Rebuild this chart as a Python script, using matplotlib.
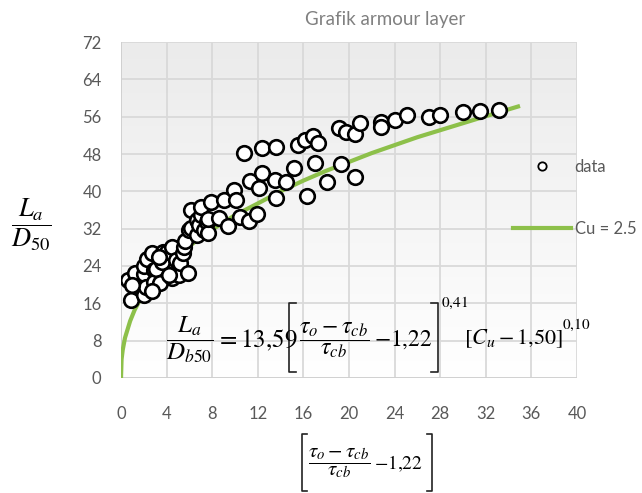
import matplotlib
matplotlib.use("Agg")
import matplotlib.pyplot as plt
import numpy as np
from matplotlib.lines import Line2D

plt.rcParams['font.family'] = ['Lato', 'DejaVu Sans']
plt.rcParams['mathtext.fontset'] = 'stix'

# data points
data_x = [0.6, 0.9, 1.2, 1.5, 2.0, 2.0, 2.0, 2.2, 2.3, 2.7, 2.9, 2.9, 3.1, 3.4,
          3.6, 3.7, 4.0, 4.5, 4.5, 4.8, 4.9, 5.1, 5.2, 5.4, 5.5, 5.6, 5.9, 6.0,
          6.1, 6.1, 6.7, 6.7, 6.8, 7.0, 7.0, 7.3, 7.5, 7.6, 7.6, 7.9, 8.6, 9.0,
          9.4, 9.9, 10.1, 10.4, 10.8, 11.2, 11.3, 11.9, 12.1, 12.4, 12.4, 13.5,
          13.6, 13.6, 14.5, 15.2, 15.5, 16.1, 16.3, 16.8, 17.0, 17.3, 18.1, 19.1,
          19.3, 19.7, 20.5, 20.5, 21.0, 22.8, 22.8, 24.0, 25.1, 27.0, 28.0, 30.0,
          31.5, 33.2, 1.0, 2.7, 3.3, 4.2]
data_y = [21.0, 16.8, 22.6, 19.5, 17.8, 22.2, 24.1, 19.6, 25.4, 26.7, 23.1, 20.6,
          23.4, 20.3, 24.9, 27.1, 27.1, 21.4, 28.1, 25.3, 22.4, 22.1, 24.6, 26.7,
          28.1, 29.4, 22.6, 31.7, 32.2, 36.0, 30.6, 33.9, 32.8, 34.9, 36.6, 31.7,
          33.5, 31.0, 34.0, 37.8, 34.2, 38.1, 32.6, 40.2, 38.1, 34.4, 48.3, 33.6,
          42.2, 35.2, 40.8, 49.3, 44.0, 42.4, 49.6, 38.6, 42.0, 44.9, 49.9, 51.1,
          39.0, 51.9, 46.0, 50.3, 42.1, 53.5, 45.9, 52.8, 52.3, 43.1, 54.6, 54.9,
          53.8, 55.3, 56.4, 56.0, 56.4, 57.1, 57.3, 57.5, 20.0, 18.6, 26.0, 22.0]

# fitted curve Cu = 2.5
curve_x = [0, 0.05, 0.15, 0.35, 0.8, 1.2, 1.7, 2.5, 3.5, 5, 6.5, 8, 10, 12, 14,
           16, 18, 20, 22, 24, 26, 28, 30, 32, 35.0]
curve_y = [0, 4.0, 6.0, 8.6, 12.2, 14.6, 16.9, 19.8, 22.7, 26.3, 29.2, 31.8,
           34.9, 37.4, 40.0, 42.3, 44.4, 46.3, 48.2, 49.9, 51.6, 53.1, 54.6,
           56.1, 58.3]

xticks = np.arange(0, 41, 4)
yticks = np.arange(0, 73, 8)

W, H = 642, 493
fig = plt.figure(figsize=(W / 100, H / 100), dpi=100)
ax = fig.add_axes([121 / W, 1 - 378 / H, 456 / W, 336 / H])


def fx(x):
    return x / W


def fy(y):
    return 1 - y / H


def ptext(x, y, s, **kw):
    fig.text(fx(x), fy(y), s, **kw)


def bracket(x, y0, y1, tick):
    # square bracket drawn as a thin line (tick > 0 -> opening to the right)
    fig.add_artist(Line2D([fx(x + tick), fx(x), fx(x), fx(x + tick)],
                          [fy(y0), fy(y0), fy(y1), fy(y1)],
                          color='#222222', linewidth=1.2))


# light gradient background of plot area
grad = np.linspace(1.0, 0.0, 256).reshape(-1, 1)
ax.imshow(grad, extent=[0, 1, 0, 1], transform=ax.transAxes, aspect='auto',
          cmap=matplotlib.colors.LinearSegmentedColormap.from_list(
              'g', ['#ffffff', '#ebebeb']), zorder=0)

ax.set_xlim(0, 40)
ax.set_ylim(0, 72)
ax.set_xticks(xticks)
ax.set_yticks(yticks)
ax.grid(True, color='#d9d9d9', linewidth=1.3, zorder=1)
ax.set_axisbelow(True)
for s in ax.spines.values():
    s.set_visible(False)
ax.axhline(0, color='#d0d0d0', linewidth=1.3, zorder=1)
ax.axvline(0, color='#d0d0d0', linewidth=1.3, zorder=1)
ax.tick_params(length=0, labelsize=12, labelcolor='#595959')
ax.tick_params(axis='y', pad=14)
ax.tick_params(axis='x', pad=20)

line_col = '#8dc04a'
ax.plot(curve_x, curve_y, color=line_col, linewidth=3, zorder=2,
        solid_capstyle='butt')
ax.scatter(data_x, data_y, s=110, facecolor='white', edgecolor='black',
           linewidth=1.9, zorder=3)

# equation inside plot, built from pieces
ptext(190, 340, r'$\dfrac{L_a}{D_{b50}}$', fontsize=18, ha='center', va='center')
ptext(216, 340, r'$=13{,}59$', fontsize=18, ha='left', va='center')
bracket(289, 303, 372, 7)
ptext(334, 340, r'$\dfrac{\tau_o - \tau_{cb}}{\tau_{cb}}$', fontsize=17,
      ha='center', va='center')
ptext(374, 340, r'$-1{,}22$', fontsize=17, ha='left', va='center')
bracket(438, 303, 372, -7)
ptext(441, 303, r'$0{,}41$', fontsize=11, ha='left', va='center')
ptext(464, 339, r'$[C_u - 1{,}50]$', fontsize=16, ha='left', va='center')
ptext(562, 325, r'$0{,}10$', fontsize=11, ha='left', va='center')

# y axis label
ptext(31, 225, r'$\dfrac{L_a}{D_{50}}$', fontsize=19, ha='center', va='center')

# x axis label, built from pieces
bracket(302, 434, 491, 5)
ptext(339, 463, r'$\dfrac{\tau_o - \tau_{cb}}{\tau_{cb}}$', fontsize=15,
      ha='center', va='center')
ptext(374, 464, r'$-1{,}22$', fontsize=14, ha='left', va='center')
bracket(432, 434, 491, -5)

ptext(385, 20, 'Grafik armour layer', fontsize=13.5, color='#808080',
      ha='center', va='center')

handles = [Line2D([], [], marker='o', linestyle='none', markersize=6,
                  markerfacecolor='white', markeredgecolor='black',
                  markeredgewidth=1.3),
           Line2D([], [], color=line_col, linewidth=3)]
fig.legend(handles, ['data', 'Cu = 2.5'], loc='center left',
           bbox_to_anchor=(fx(513), fy(198)), frameon=False,
           fontsize=12, labelcolor='#595959', handlelength=3.5,
           handletextpad=0.2, labelspacing=2.8, borderpad=0,
           borderaxespad=0)

fig.savefig('out.png', dpi=100)
